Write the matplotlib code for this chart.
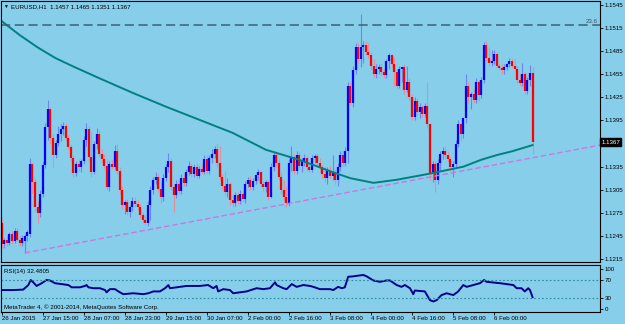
import numpy as np
import matplotlib.pyplot as plt

plt.rcParams['font.family'] = ['Liberation Sans', 'DejaVu Sans']

# EURUSD H1 candles, 26 Jan 23:00 .. 6 Feb 15:00
opens = [
    1.1262, 1.1235, 1.1240, 1.1236, 1.1248, 1.1238, 1.1252, 1.1240, 1.1236, 1.1238,
    1.1245, 1.1248, 1.1338, 1.1315, 1.1283, 1.1275, 1.1300, 1.1337, 1.1386, 1.1410,
    1.1372, 1.1350, 1.1366, 1.1378, 1.1384, 1.1388, 1.1372, 1.1360, 1.1346, 1.1327,
    1.1339, 1.1334, 1.1342, 1.1370, 1.1384, 1.1348, 1.1328, 1.1364, 1.1378, 1.1352,
    1.1345, 1.1336, 1.1308, 1.1338, 1.1335, 1.1356, 1.1330, 1.1305, 1.1285, 1.1289,
    1.1276, 1.1282, 1.1291, 1.1286, 1.1283, 1.1272, 1.1266, 1.1262, 1.1285, 1.1305,
    1.1318, 1.1322, 1.1306, 1.1295, 1.1320, 1.1334, 1.1342, 1.1308, 1.1298, 1.1313,
    1.1303, 1.1320, 1.1314, 1.1328, 1.1336, 1.1326, 1.1334, 1.1323, 1.1332, 1.1328,
    1.1345, 1.1330, 1.1346, 1.1352, 1.1358, 1.1340, 1.1322, 1.1310, 1.1302, 1.1312,
    1.1292, 1.1288, 1.1298, 1.1290, 1.1300, 1.1293, 1.1312, 1.1318, 1.1308, 1.1316,
    1.1324, 1.1328, 1.1312, 1.1308, 1.1315, 1.1296, 1.1335, 1.1350, 1.1340, 1.1322,
    1.1305, 1.1295, 1.1288, 1.1340, 1.1348, 1.1330, 1.1350, 1.1336, 1.1342, 1.1346,
    1.1334, 1.1331, 1.1346, 1.1349, 1.1340, 1.1334, 1.1325, 1.1320, 1.1330, 1.1323,
    1.1328, 1.1318, 1.1335, 1.1350, 1.1340, 1.1355, 1.1440, 1.1418, 1.1460, 1.1490,
    1.1475, 1.1490, 1.1493, 1.1484, 1.1480, 1.1466, 1.1456, 1.1462, 1.1465, 1.1458,
    1.1454, 1.1472, 1.1480, 1.1468, 1.1458, 1.1440, 1.1462, 1.1464, 1.1435, 1.1445,
    1.1425, 1.1400, 1.1420, 1.1406, 1.1412, 1.1404, 1.1414, 1.1390, 1.1325, 1.1338,
    1.1318, 1.1340, 1.1352, 1.1356, 1.1350, 1.1345, 1.1334, 1.1338, 1.1365, 1.1390,
    1.1378, 1.1398, 1.1440, 1.1425, 1.1430, 1.1422, 1.1445, 1.1428, 1.1448, 1.1493,
    1.1476, 1.1470, 1.1472, 1.1482, 1.1466, 1.1463, 1.1460, 1.1465, 1.1468, 1.1472,
    1.1466, 1.1462, 1.1448, 1.1444, 1.1456, 1.1433, 1.1448, 1.1457,
]
highs = [
    1.1268, 1.1243, 1.1245, 1.1250, 1.1252, 1.1255, 1.1256, 1.1245, 1.1246, 1.1248,
    1.1253, 1.1346, 1.1340, 1.1320, 1.1290, 1.1305, 1.1342, 1.1392, 1.1422, 1.1412,
    1.1378, 1.1370, 1.1388, 1.1390, 1.1393, 1.1392, 1.1376, 1.1364, 1.1350, 1.1343,
    1.1345, 1.1345, 1.1375, 1.1392, 1.1388, 1.1380, 1.1368, 1.1385, 1.1382, 1.1358,
    1.1352, 1.1345, 1.1342, 1.1345, 1.1363, 1.1365, 1.1334, 1.1310, 1.1292, 1.1293,
    1.1285, 1.1295, 1.1296, 1.1292, 1.1286, 1.1276, 1.1272, 1.1290, 1.1310, 1.1322,
    1.1328, 1.1326, 1.1316, 1.1325, 1.1338, 1.1353, 1.1346, 1.1312, 1.1318, 1.1317,
    1.1325, 1.1326, 1.1332, 1.1342, 1.1340, 1.1338, 1.1340, 1.1336, 1.1338, 1.1350,
    1.1350, 1.1350, 1.1358, 1.1362, 1.1364, 1.1362, 1.1326, 1.1330, 1.1320, 1.1315,
    1.1300, 1.1302, 1.1302, 1.1305, 1.1305, 1.1316, 1.1322, 1.1323, 1.1320, 1.1326,
    1.1332, 1.1330, 1.1316, 1.1318, 1.1318, 1.1340, 1.1355, 1.1356, 1.1345, 1.1328,
    1.1318, 1.1310, 1.1345, 1.1362, 1.1352, 1.1355, 1.1354, 1.1346, 1.1352, 1.1349,
    1.1340, 1.1350, 1.1352, 1.1353, 1.1346, 1.1337, 1.1334, 1.1335, 1.1336, 1.1350,
    1.1332, 1.1340, 1.1356, 1.1356, 1.1360, 1.1445, 1.1445, 1.1466, 1.1495, 1.1496,
    1.1533, 1.1498, 1.1498, 1.1495, 1.1484, 1.1475, 1.1468, 1.1468, 1.1470, 1.1462,
    1.1475, 1.1483, 1.1482, 1.1478, 1.1462, 1.1466, 1.1466, 1.1468, 1.1466, 1.1450,
    1.1430, 1.1425, 1.1424, 1.1418, 1.1415, 1.1418, 1.1445, 1.1392, 1.1342, 1.1342,
    1.1345, 1.1356, 1.1360, 1.1362, 1.1356, 1.1348, 1.1342, 1.1370, 1.1395, 1.1392,
    1.1400, 1.1455, 1.1445, 1.1432, 1.1436, 1.1450, 1.1448, 1.1452, 1.1497, 1.1498,
    1.1490, 1.1486, 1.1486, 1.1484, 1.1470, 1.1468, 1.1468, 1.1470, 1.1476, 1.1476,
    1.1475, 1.1466, 1.1456, 1.1470, 1.1458, 1.1452, 1.1467, 1.1465,
]
lows = [
    1.1230, 1.1230, 1.1232, 1.1233, 1.1234, 1.1236, 1.1238, 1.1232, 1.1232, 1.1223,
    1.1238, 1.1244, 1.1300, 1.1278, 1.1262, 1.1270, 1.1296, 1.1333, 1.1370, 1.1365,
    1.1334, 1.1346, 1.1362, 1.1368, 1.1376, 1.1368, 1.1357, 1.1343, 1.1322, 1.1323,
    1.1330, 1.1328, 1.1338, 1.1362, 1.1343, 1.1322, 1.1325, 1.1358, 1.1348, 1.1340,
    1.1333, 1.1305, 1.1303, 1.1332, 1.1332, 1.1326, 1.1300, 1.1280, 1.1274, 1.1272,
    1.1270, 1.1278, 1.1282, 1.1279, 1.1268, 1.1262, 1.1259, 1.1258, 1.1266, 1.1300,
    1.1312, 1.1302, 1.1288, 1.1290, 1.1316, 1.1328, 1.1305, 1.1276, 1.1294, 1.1300,
    1.1300, 1.1310, 1.1310, 1.1324, 1.1322, 1.1322, 1.1320, 1.1320, 1.1325, 1.1325,
    1.1326, 1.1326, 1.1340, 1.1346, 1.1335, 1.1318, 1.1305, 1.1298, 1.1296, 1.1285,
    1.1282, 1.1284, 1.1286, 1.1287, 1.1290, 1.1288, 1.1308, 1.1305, 1.1305, 1.1312,
    1.1318, 1.1308, 1.1304, 1.1302, 1.1292, 1.1294, 1.1330, 1.1335, 1.1318, 1.1300,
    1.1290, 1.1282, 1.1284, 1.1330, 1.1325, 1.1325, 1.1332, 1.1328, 1.1336, 1.1330,
    1.1328, 1.1328, 1.1340, 1.1337, 1.1330, 1.1320, 1.1315, 1.1312, 1.1320, 1.1318,
    1.1312, 1.1310, 1.1330, 1.1336, 1.1336, 1.1340, 1.1415, 1.1412, 1.1455, 1.1470,
    1.1465, 1.1470, 1.1480, 1.1476, 1.1462, 1.1452, 1.1450, 1.1455, 1.1454, 1.1450,
    1.1450, 1.1462, 1.1464, 1.1440, 1.1436, 1.1437, 1.1445, 1.1430, 1.1432, 1.1420,
    1.1395, 1.1396, 1.1402, 1.1398, 1.1400, 1.1400, 1.1385, 1.1318, 1.1315, 1.1302,
    1.1312, 1.1330, 1.1345, 1.1345, 1.1342, 1.1330, 1.1322, 1.1335, 1.1360, 1.1370,
    1.1372, 1.1392, 1.1418, 1.1410, 1.1418, 1.1418, 1.1420, 1.1424, 1.1444, 1.1472,
    1.1466, 1.1466, 1.1468, 1.1464, 1.1460, 1.1455, 1.1456, 1.1460, 1.1464, 1.1464,
    1.1460, 1.1444, 1.1440, 1.1440, 1.1430, 1.1430, 1.1440, 1.1351,
]
closes = [
    1.1235, 1.1240, 1.1236, 1.1248, 1.1238, 1.1252, 1.1240, 1.1236, 1.1242, 1.1245,
    1.1250, 1.1338, 1.1315, 1.1283, 1.1275, 1.1300, 1.1337, 1.1386, 1.1410, 1.1372,
    1.1350, 1.1366, 1.1378, 1.1384, 1.1388, 1.1372, 1.1360, 1.1346, 1.1327, 1.1339,
    1.1334, 1.1342, 1.1370, 1.1384, 1.1348, 1.1328, 1.1364, 1.1378, 1.1352, 1.1345,
    1.1336, 1.1308, 1.1338, 1.1335, 1.1356, 1.1330, 1.1305, 1.1285, 1.1289, 1.1276,
    1.1282, 1.1291, 1.1286, 1.1283, 1.1272, 1.1266, 1.1262, 1.1285, 1.1305, 1.1318,
    1.1322, 1.1306, 1.1295, 1.1320, 1.1334, 1.1342, 1.1308, 1.1298, 1.1313, 1.1303,
    1.1320, 1.1314, 1.1328, 1.1336, 1.1326, 1.1334, 1.1323, 1.1332, 1.1328, 1.1345,
    1.1330, 1.1346, 1.1352, 1.1358, 1.1340, 1.1322, 1.1310, 1.1302, 1.1312, 1.1292,
    1.1288, 1.1298, 1.1290, 1.1300, 1.1293, 1.1312, 1.1318, 1.1308, 1.1316, 1.1324,
    1.1328, 1.1312, 1.1308, 1.1315, 1.1296, 1.1335, 1.1350, 1.1340, 1.1322, 1.1305,
    1.1295, 1.1288, 1.1340, 1.1348, 1.1330, 1.1350, 1.1336, 1.1342, 1.1346, 1.1334,
    1.1331, 1.1346, 1.1349, 1.1340, 1.1334, 1.1325, 1.1320, 1.1330, 1.1323, 1.1328,
    1.1318, 1.1335, 1.1350, 1.1340, 1.1355, 1.1440, 1.1418, 1.1460, 1.1490, 1.1475,
    1.1490, 1.1493, 1.1484, 1.1480, 1.1466, 1.1456, 1.1462, 1.1465, 1.1458, 1.1454,
    1.1472, 1.1480, 1.1468, 1.1458, 1.1440, 1.1462, 1.1464, 1.1435, 1.1445, 1.1425,
    1.1400, 1.1420, 1.1406, 1.1412, 1.1404, 1.1414, 1.1390, 1.1325, 1.1338, 1.1318,
    1.1340, 1.1352, 1.1356, 1.1350, 1.1345, 1.1334, 1.1338, 1.1365, 1.1390, 1.1378,
    1.1398, 1.1440, 1.1425, 1.1430, 1.1422, 1.1445, 1.1428, 1.1448, 1.1493, 1.1476,
    1.1470, 1.1472, 1.1482, 1.1466, 1.1463, 1.1460, 1.1465, 1.1468, 1.1472, 1.1466,
    1.1462, 1.1448, 1.1444, 1.1456, 1.1433, 1.1448, 1.1457, 1.1367,
]

# moving average, sampled along the bars
ma_idx = [0, 7, 14, 21, 28, 38, 51, 64, 77, 90, 103, 116, 129, 136, 145, 154,
          167, 180, 187, 193, 199, 207]
ma_val = [1.1524, 1.1506, 1.1490, 1.1476, 1.1465, 1.1450, 1.1431, 1.1413, 1.1396,
          1.1379, 1.1357, 1.1344, 1.1328, 1.1320, 1.1314, 1.1318, 1.1326, 1.1335,
          1.1344, 1.1350, 1.1355, 1.1363]

# trend line anchors and fibo level
trend_idx = [9, 233.3]
trend_val = [1.1223, 1.1363]
fib_level = 1.1519
fib_label = '23.6'

rsi_idx = [0, 4.5, 8.4, 10.4, 11.3, 12.3, 13.6, 15.6, 17.5, 18.8,
           20.8, 23.4, 26, 27.3, 30.5, 32.5, 33.1, 33.8, 35.7, 38.3,
           40.3, 40.9, 42.2, 44.2, 45.5, 47.4, 51.3, 55.2, 57.2, 59.1,
           61.7, 63.7, 65, 65.6, 68.2, 72.1, 77.3, 80.5, 82.5, 83.8,
           84.4, 86.4, 89, 90.3, 95.5, 99.4, 102, 104.6, 106.6, 107.2,
           109.8, 111.1, 113.1, 115, 117.6, 120.2, 121.5, 124.1, 128, 129.3,
           131.2, 132.6, 133.8, 135.1, 137.1, 141, 142.3, 144.9, 147.5, 150.1,
           151.4, 154, 155.9, 157.2, 159.2, 160.5, 161.1, 165, 167, 168.3,
           169.6, 171.5, 173.5, 176.1, 178, 180, 181.3, 183.9, 186.5, 188.1,
           189.1, 194.3, 199.5, 200.8, 202.7, 204, 205.3, 206, 207]
rsi_val = [48, 48, 49, 59, 70, 65, 57, 63, 70, 69,
           63, 61, 59, 54, 54, 57, 59, 54, 52, 52,
           48, 43, 50, 50, 45, 39, 41, 39, 41, 45,
           45, 52, 59, 52, 54, 57, 57, 59, 52, 57,
           45, 50, 48, 41, 45, 52, 50, 52, 65, 59,
           52, 50, 61, 55, 59, 57, 55, 50, 50, 48,
           55, 52, 54, 77, 78, 81, 78, 69, 66, 69,
           69, 59, 55, 59, 52, 39, 47, 45, 26, 23,
           26, 37, 41, 37, 45, 59, 55, 59, 63, 70,
           66, 63, 59, 52, 52, 45, 52, 48, 32.48]

# 1.1365 is hidden behind the current-price box, as in the terminal
price_ticks = [1.1215, 1.1245, 1.1275, 1.1305, 1.1335, 1.1395, 1.1425,
               1.1455, 1.1485, 1.1515, 1.1545]
date_idx = [0, 16, 32, 48, 64, 80, 96, 112, 128, 144, 160, 176, 192]
date_labels = ['26 Jan 2015', '27 Jan 15:00', '28 Jan 07:00', '28 Jan 23:00',
               '29 Jan 15:00', '30 Jan 07:00', '2 Feb 00:00', '2 Feb 16:00',
               '3 Feb 08:00', '4 Feb 00:00', '4 Feb 16:00', '5 Feb 08:00',
               '6 Feb 00:00']

BG = '#87CEEB'
FS = 4.4

fig = plt.figure(figsize=(6.25, 3.24), dpi=100, facecolor=BG)
ax = fig.add_axes([1/625, 62/324, 599/625, 261/324], facecolor=BG)
rax = fig.add_axes([1/625, 12/324, 599/625, 47/324], facecolor=BG)

o, h, l, c = map(np.array, (opens, highs, lows, closes))
idx = np.arange(len(c))
up = c >= o
lo_b = np.minimum(o, c)
hi_b = np.maximum(np.maximum(o, c), lo_b + 0.00007)

ax.vlines(idx[up], l[up], h[up], color='#6c86ee', lw=0.8)
ax.vlines(idx[~up], l[~up], h[~up], color='#e0909c', lw=0.8)
ax.vlines(idx[up], lo_b[up], hi_b[up], color='#0000ff', lw=1.6)
ax.vlines(idx[~up], lo_b[~up], hi_b[~up], color='#ff0000', lw=1.6)

ax.plot(ma_idx, ma_val, color='#008080', lw=1.4)
ax.axhline(fib_level, color='#3e6070', lw=1.1, dashes=(6, 3))
ax.text(232.5, fib_level + 0.00008, fib_label, ha='right', va='bottom',
        fontsize=FS, color='#3e5060')
ax.plot(trend_idx, trend_val, color='#c878e0', lw=1.0, dashes=(4, 2))

ax.set_xlim(-0.27, 233.3)
ax.set_ylim(1.12112, 1.15502)
ax.set_xticks([])
ax.yaxis.tick_right()
ax.set_yticks(price_ticks)
ax.set_yticklabels([f'{v:.4f}' for v in price_ticks])
ax.tick_params(axis='y', length=2, width=0.6, pad=1.5, labelsize=FS)
ax.text(1.002, closes[-1], f'{closes[-1]:.4f}', transform=ax.get_yaxis_transform(),
        ha='left', va='center', fontsize=FS, color='white',
        bbox=dict(boxstyle='square,pad=0.2', fc='black', ec='black'))

rax.plot(rsi_idx, rsi_val, color='#00008b', lw=1.4)
for lev in (70, 30):
    rax.axhline(lev, color='#2a8a9a', lw=0.8, dashes=(1.5, 2))
rax.set_xlim(-0.27, 233.3)
rax.set_ylim(0, 102.8)
rax.yaxis.tick_right()
rax.set_yticks([7.5, 30, 70, 93.5])
rax.set_yticklabels(['0', '30', '70', '100'])
rax.tick_params(axis='y', length=2, width=0.6, pad=1.5, labelsize=FS)
rax.set_xticks(date_idx)
rax.set_xticklabels(date_labels, ha='left')
rax.tick_params(axis='x', length=2.5, width=0.6, pad=0.5, labelsize=FS)

for a in (ax, rax):
    for s in a.spines.values():
        s.set_color('black')
        s.set_linewidth(0.8)

fig.text(3/625, 1 - 6.5/324, '\u25bc', fontsize=3.5, va='center')
fig.text(11/625, 1 - 6.5/324, 'EURUSD,H1  1.1457 1.1465 1.1351 1.1367',
         fontsize=FS, va='center')
fig.text(4/625, 1 - 272/324, 'RSI(14) 32.4805', fontsize=FS, va='center')
fig.text(4/625, 1 - 307/324, 'MetaTrader 4, \u00a9 2001-2014, MetaQuotes Software Corp.',
         fontsize=FS, va='center')

fig.savefig('out.png', dpi=100, facecolor=BG)
